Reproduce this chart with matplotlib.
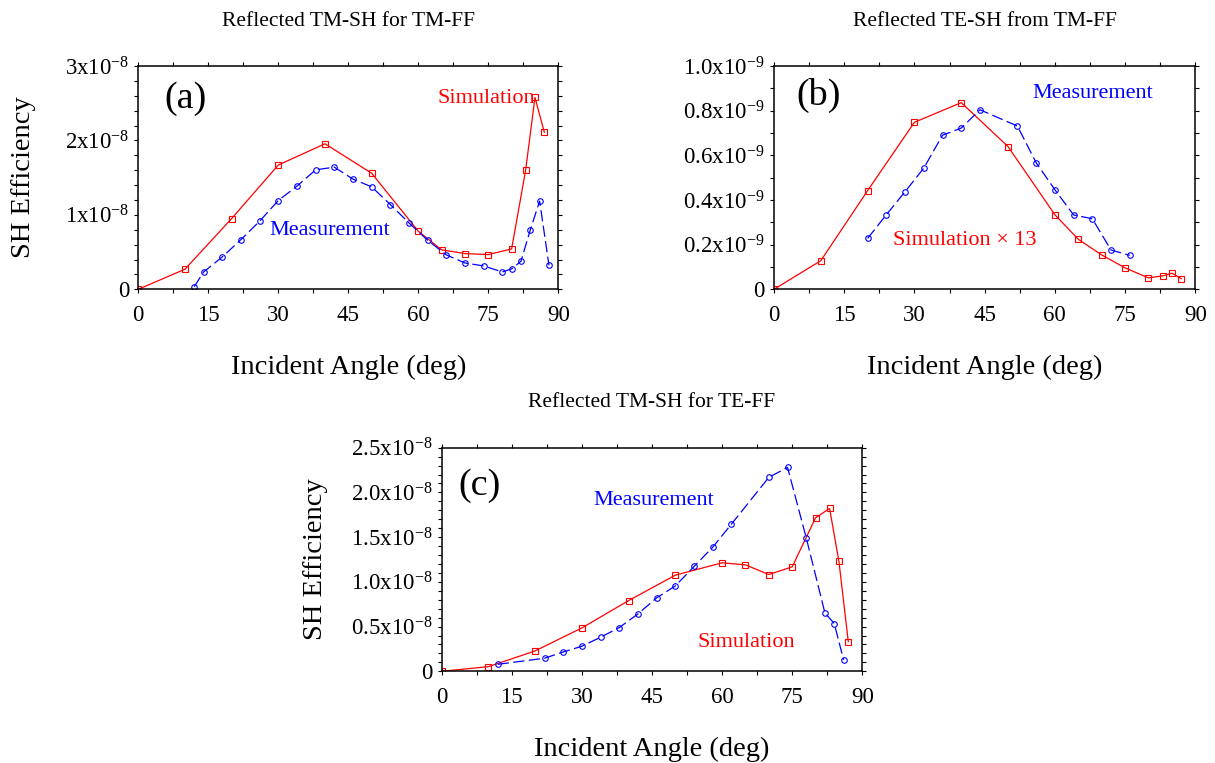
import matplotlib
matplotlib.use("Agg")
import matplotlib.pyplot as plt
import numpy as np
from matplotlib.ticker import MultipleLocator, FixedLocator

plt.rcParams['font.family'] = ['Liberation Serif', 'DejaVu Serif']
plt.rcParams['mathtext.fontset'] = 'custom'
plt.rcParams['mathtext.rm'] = 'Liberation Serif'
plt.rcParams['mathtext.it'] = 'Liberation Serif:italic'
plt.rcParams['mathtext.bf'] = 'Liberation Serif:bold'

# ---- (a) Reflected TM-SH for TM-FF, values in units of 1e-8 ----
a_sim_angle = [0, 10, 20, 30, 40, 50, 60, 65, 70, 75, 80, 83, 85, 87]
a_sim_eff = [0.0, 0.27, 0.95, 1.67, 1.955, 1.56, 0.78, 0.53, 0.48, 0.466, 0.543, 1.60, 2.578, 2.11]
a_meas_angle = [12, 14, 18, 22, 26, 30, 34, 38, 42, 46, 50, 54, 58, 62, 66, 70, 74, 78, 80, 82, 84, 86, 88]
a_meas_eff = [0.036, 0.233, 0.435, 0.668, 0.915, 1.193, 1.386, 1.605, 1.641, 1.48, 1.377, 1.139,
              0.892, 0.659, 0.462, 0.354, 0.314, 0.233, 0.274, 0.377, 0.798, 1.184, 0.323]
a_scale = 1e-8
a_yticks = [0, 1, 2, 3]
a_yticklabels = ['0', '1x10$^{-8}$', '2x10$^{-8}$', '3x10$^{-8}$']

# ---- (b) Reflected TE-SH from TM-FF, values in units of 1e-9 ----
b_sim_angle = [0, 10, 20, 30, 40, 50, 60, 65, 70, 75, 80, 83, 85, 87]
b_sim_eff = [0.0, 0.128, 0.442, 0.748, 0.836, 0.639, 0.334, 0.224, 0.154, 0.096, 0.051, 0.060, 0.072, 0.048]
b_meas_angle = [20, 24, 28, 32, 36, 40, 44, 52, 56, 60, 64, 68, 72, 76]
b_meas_eff = [0.228, 0.334, 0.437, 0.543, 0.690, 0.722, 0.804, 0.731, 0.567, 0.446, 0.333, 0.316, 0.176, 0.152]
b_scale = 1e-9
b_yticks = [0, 0.2, 0.4, 0.6, 0.8, 1.0]
b_yticklabels = ['0', '0.2x10$^{-9}$', '0.4x10$^{-9}$', '0.6x10$^{-9}$', '0.8x10$^{-9}$', '1.0x10$^{-9}$']

# ---- (c) Reflected TM-SH for TE-FF, values in units of 1e-8 ----
c_sim_angle = [0, 10, 20, 30, 40, 50, 60, 65, 70, 75, 80, 83, 85, 87]
c_sim_eff = [0.0, 0.052, 0.228, 0.485, 0.791, 1.075, 1.213, 1.19, 1.082, 1.168, 1.716, 1.821, 1.228, 0.332]
c_meas_angle = [12, 22, 26, 30, 34, 38, 42, 46, 50, 54, 58, 62, 70, 74, 78, 82, 84, 86]
c_meas_eff = [0.078, 0.146, 0.216, 0.28, 0.381, 0.489, 0.642, 0.821, 0.955, 1.172, 1.388, 1.646,
              2.168, 2.28, 1.493, 0.653, 0.534, 0.127]
c_scale = 1e-8
c_yticks = [0, 0.5, 1.0, 1.5, 2.0, 2.5]
c_yticklabels = ['0', '0.5x10$^{-8}$', '1.0x10$^{-8}$', '1.5x10$^{-8}$', '2.0x10$^{-8}$', '2.5x10$^{-8}$']

x_ticks = [0, 15, 30, 45, 60, 75, 90]

W, H = 1215, 763
fig = plt.figure(figsize=(W / 100, H / 100), dpi=100)

RED = '#ff0000'
BLUE = '#0000ff'
TICK_FS = 16.5
NOTE_FS = 16
TITLE_FS = 15.5
LABEL_FS = 20.5


def px_axes(left, top, right, bottom):
    return fig.add_axes([left / W, 1 - bottom / H, (right - left) / W, (bottom - top) / H])


def style_panel(ax, scale, yticks, yticklabels, ymax, yminor):
    ax.set_xlim(0, 90)
    ax.set_ylim(0, ymax * scale)
    ax.xaxis.set_major_locator(FixedLocator(x_ticks))
    ax.xaxis.set_minor_locator(MultipleLocator(7.5))
    ax.set_xticklabels([str(v) for v in x_ticks])
    ax.yaxis.set_major_locator(FixedLocator([v * scale for v in yticks]))
    ax.yaxis.set_minor_locator(MultipleLocator(yminor * scale))
    ax.set_yticklabels(yticklabels)
    ax.tick_params(which='both', direction='out', top=True, right=True,
                   length=2.6, width=0.8, colors='black')
    ax.tick_params(axis='x', which='major', pad=9.0, labelsize=TICK_FS)
    ax.tick_params(axis='y', which='major', pad=4.0, labelsize=TICK_FS)
    for s in ax.spines.values():
        s.set_linewidth(1.1)


def draw_series(ax, sx, sy, mx, my, scale):
    ax.plot(sx, np.array(sy) * scale, color=RED, lw=0.9, marker='s', ms=5,
            mfc='none', mec=RED, mew=0.8)
    ax.plot(mx, np.array(my) * scale, color=BLUE, lw=0.9, marker='o', ms=4.0,
            mfc='none', mec=BLUE, mew=0.8, linestyle=(0, (9, 3.5)))


# panel (a)
ax_a = px_axes(138.3, 66, 558.3, 289.3)
draw_series(ax_a, a_sim_angle, a_sim_eff, a_meas_angle, a_meas_eff, a_scale)
style_panel(ax_a, a_scale, a_yticks, a_yticklabels, 3, 0.2)
ax_a.text(0.112, 0.852, '(a)', transform=ax_a.transAxes, fontsize=27.5, ha='center', va='center')
ax_a.text(0.8295, 0.833, 'Simulation', transform=ax_a.transAxes, fontsize=NOTE_FS,
          color=RED, ha='center', va='baseline')
ax_a.text(0.456, 0.243, 'Measurement', transform=ax_a.transAxes, fontsize=NOTE_FS,
          color=BLUE, ha='center', va='baseline')

# panel (b)
ax_b = px_axes(774, 66, 1195.3, 289.3)
draw_series(ax_b, b_sim_angle, b_sim_eff, b_meas_angle, b_meas_eff, b_scale)
style_panel(ax_b, b_scale, b_yticks, b_yticklabels, 1.0, 0.1)
ax_b.text(0.106, 0.870, '(b)', transform=ax_b.transAxes, fontsize=27.5, ha='center', va='center')
ax_b.text(0.7555, 0.855, 'Measurement', transform=ax_b.transAxes, fontsize=NOTE_FS,
          color=BLUE, ha='center', va='baseline')
ax_b.text(0.453, 0.198, 'Simulation \u00d7 13', transform=ax_b.transAxes, fontsize=NOTE_FS,
          color=RED, ha='center', va='baseline')

# panel (c)
ax_c = px_axes(441.7, 447.7, 862.3, 671.3)
draw_series(ax_c, c_sim_angle, c_sim_eff, c_meas_angle, c_meas_eff, c_scale)
style_panel(ax_c, c_scale, c_yticks, c_yticklabels, 2.5, 0.1)
ax_c.text(0.091, 0.830, '(c)', transform=ax_c.transAxes, fontsize=27.5, ha='center', va='center')
ax_c.text(0.505, 0.744, 'Measurement', transform=ax_c.transAxes, fontsize=NOTE_FS,
          color=BLUE, ha='center', va='baseline')
ax_c.text(0.724, 0.110, 'Simulation', transform=ax_c.transAxes, fontsize=NOTE_FS,
          color=RED, ha='center', va='baseline')

# titles
fig.text(348.3 / W, 1 - 21 / H, 'Reflected TM-SH for TM-FF', fontsize=TITLE_FS, ha='center', va='center')
fig.text(984.6 / W, 1 - 21 / H, 'Reflected TE-SH from TM-FF', fontsize=TITLE_FS, ha='center', va='center')
fig.text(652.0 / W, 1 - 402 / H, 'Reflected TM-SH for TE-FF', fontsize=TITLE_FS, ha='center', va='center')

# axis labels
fig.text(348.3 / W, 1 - 374 / H, 'Incident Angle (deg)', fontsize=LABEL_FS, ha='center', va='baseline')
fig.text(984.6 / W, 1 - 374 / H, 'Incident Angle (deg)', fontsize=LABEL_FS, ha='center', va='baseline')
fig.text(652.0 / W, 1 - 756 / H, 'Incident Angle (deg)', fontsize=LABEL_FS, ha='center', va='baseline')
fig.text(24 / W, 1 - 177.6 / H, 'SH Efficiency', fontsize=LABEL_FS, rotation=90, ha='center', va='center')
fig.text(315 / W, 1 - 559.5 / H, 'SH Efficiency', fontsize=LABEL_FS, rotation=90, ha='center', va='center')

fig.savefig('out.png', dpi=100)
